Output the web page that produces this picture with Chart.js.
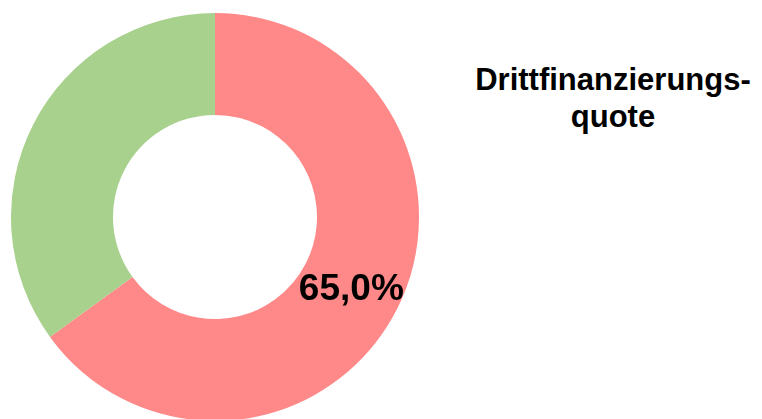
<!DOCTYPE html>
<html>
<head>
<meta charset="utf-8">
<script src="https://cdn.jsdelivr.net/npm/chart.js@4.4.1/dist/chart.umd.min.js"></script>
<style>
    html, body { margin: 0; padding: 0; background: #fff; overflow: hidden; }
    body { width: 762px; height: 419px; position: relative; }
    #chartBox { position: absolute; left: 11px; top: 13px; width: 408px; height: 408px; }
    #title {
        position: absolute; left: 463px; top: 61px; width: 300px;
        text-align: center; font-family: "Liberation Sans", Arial, sans-serif;
        font-weight: bold; font-size: 31px; line-height: 37px; color: #000;
    }
</style>
</head>
<body>
<div id="chartBox"><canvas id="quoteChart"></canvas></div>
<div id="title">Drittfinanzierungs-<br>quote</div>
<script>
// Drittfinanzierungsquote vs. Rest
const categories = ['Drittfinanzierung', 'Rest'];
const values = [65.0, 35.0];
const colors = ['#FF8888', '#A9D18E'];
const valueLabels = ['65,0%', ''];

// draws the percentage on the arc
const arcLabels = {
    id: 'arcLabels',
    afterDatasetsDraw(chart) {
        const ctx = chart.ctx;
        const meta = chart.getDatasetMeta(0);
        ctx.save();
        ctx.font = 'bold 37px "Liberation Sans", Arial, sans-serif';
        ctx.fillStyle = '#000';
        ctx.textAlign = 'center';
        ctx.textBaseline = 'middle';
        meta.data.forEach(function(arc, i) {
            if (!valueLabels[i]) return;
            const pos = arc.tooltipPosition();
            ctx.fillText(valueLabels[i], pos.x, pos.y + 3);
        });
        ctx.restore();
    }
};

new Chart(document.getElementById('quoteChart'), {
    type: 'doughnut',
    data: {
        labels: categories,
        datasets: [{
            data: values,
            backgroundColor: colors,
            borderWidth: 0
        }]
    },
    options: {
        responsive: true,
        maintainAspectRatio: false,
        animation: false,
        cutout: '50%',
        layout: { padding: 0 },
        plugins: {
            legend: { display: false },
            tooltip: { enabled: false }
        }
    },
    plugins: [arcLabels]
});
</script>
</body>
</html>
